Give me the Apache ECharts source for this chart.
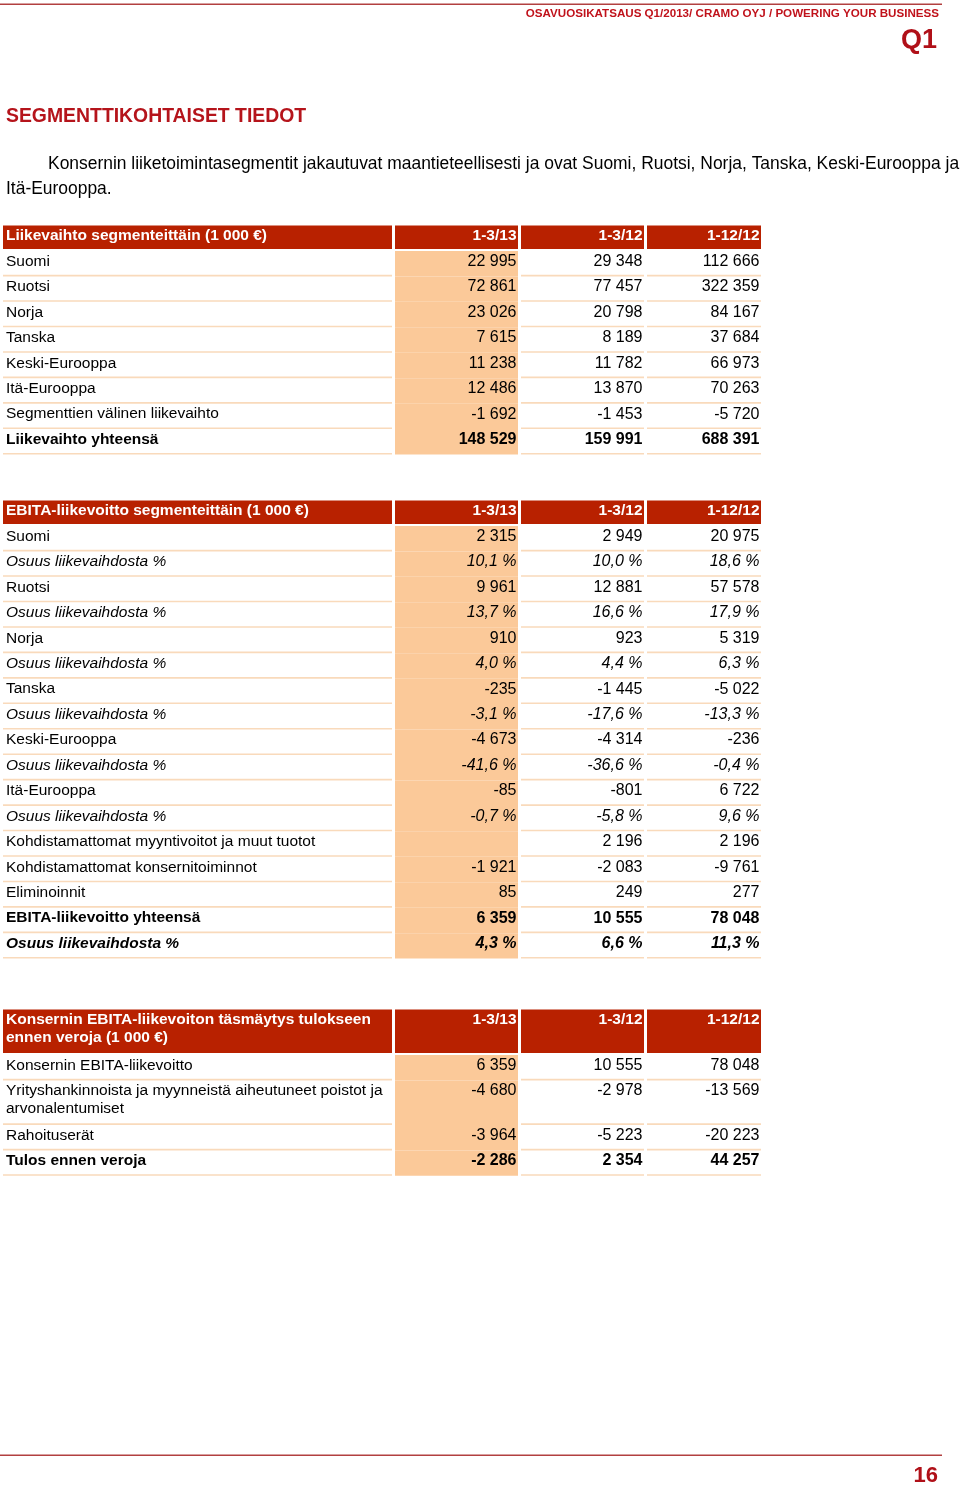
<!DOCTYPE html>
<html><head><meta charset="utf-8">
<script src="https://cdn.jsdelivr.net/npm/echarts@6/dist/echarts.min.js"></script>
<style>html,body{margin:0;padding:0;background:#fff}#c{width:960px;height:1489px}</style>
</head><body><div id="c"></div>
<script>
// ---------- DATA ----------
const pageHeader = 'OSAVUOSIKATSAUS Q1/2013/ CRAMO OYJ / POWERING YOUR BUSINESS';
const pageQuarter = 'Q1';
const pageTitle = 'SEGMENTTIKOHTAISET TIEDOT';
const introLine1 = 'Konsernin liiketoimintasegmentit jakautuvat maantieteellisesti ja ovat Suomi, Ruotsi, Norja, Tanska, Keski-Eurooppa ja';
const introLine2 = 'Itä-Eurooppa.';
const pageNumber = '16';
const periods = ['1-3/13', '1-3/12', '1-12/12'];

// Table 1: Liikevaihto
const t1Title = 'Liikevaihto segmenteittäin (1 000 €)';
const t1Labels = ['Suomi', 'Ruotsi', 'Norja', 'Tanska', 'Keski-Eurooppa', 'Itä-Eurooppa', 'Segmenttien välinen liikevaihto', 'Liikevaihto yhteensä'];
const t1Q113 = [22995, 72861, 23026, 7615, 11238, 12486, -1692, 148529];
const t1Q112 = [29348, 77457, 20798, 8189, 11782, 13870, -1453, 159991];
const t1Y12  = [112666, 322359, 84167, 37684, 66973, 70263, -5720, 688391];

// Table 2: EBITA
const t2Title = 'EBITA-liikevoitto segmenteittäin (1 000 €)';
const t2Segments = ['Suomi', 'Ruotsi', 'Norja', 'Tanska', 'Keski-Eurooppa', 'Itä-Eurooppa'];
const t2Q113 = [2315, 9961, 910, -235, -4673, -85];
const t2Q112 = [2949, 12881, 923, -1445, -4314, -801];
const t2Y12  = [20975, 57578, 5319, -5022, -236, 6722];
const t2ShareQ113 = [10.1, 13.7, 4.0, -3.1, -41.6, -0.7];
const t2ShareQ112 = [10.0, 16.6, 4.4, -17.6, -36.6, -5.8];
const t2ShareY12  = [18.6, 17.9, 6.3, -13.3, -0.4, 9.6];
const shareLabel = 'Osuus liikevaihdosta %';
const t2OtherLabels = ['Kohdistamattomat myyntivoitot ja muut tuotot', 'Kohdistamattomat konsernitoiminnot', 'Eliminoinnit'];
const t2OtherQ113 = [null, -1921, 85];
const t2OtherQ112 = [2196, -2083, 249];
const t2OtherY12  = [2196, -9761, 277];
const t2TotalLabel = 'EBITA-liikevoitto yhteensä';
const t2Total = [6359, 10555, 78048];
const t2TotalShare = [4.3, 6.6, 11.3];

// Table 3: Reconciliation
const t3Title = 'Konsernin EBITA-liikevoiton täsmäytys tulokseen\nennen veroja (1 000 €)';
const t3Labels = ['Konsernin EBITA-liikevoitto', 'Yrityshankinnoista ja myynneistä aiheutuneet poistot ja\narvonalentumiset', 'Rahoituserät', 'Tulos ennen veroja'];
const t3Q113 = [6359, -4680, -3964, -2286];
const t3Q112 = [10555, -2978, -5223, 2354];
const t3Y12  = [78048, -13569, -20223, 44257];

// ---------- FORMATTING ----------
function fmtNum(n) {
  if (n === null || n === undefined) return '';
  const s = String(Math.abs(n)).replace(/\B(?=(\d{3})+(?!\d))/g, ' ');
  return (n < 0 ? '-' : '') + s;
}
function fmtPct(n) { return n.toFixed(1).replace('.', ',') + ' %'; }

// ---------- LAYOUT ----------
const RED = '#B82100', PEACH = '#FBC999', LINE = '#F9DABB', TEXTRED = '#B5141B';
const colL = [3, 395, 521, 647], colR = [392, 518, 644, 761];
const ROW = 25.45, TALL = 44.5, HEAD2 = 45.5;
const FONT = '"Liberation Sans", Arial, sans-serif';

const cells = [];
function buildTable(top, title, rows) {
  let y = top;
  const hh = title.indexOf('\n') >= 0 ? HEAD2 : ROW;
  [title].concat(periods).forEach((t, c) => {
    cells.push({ kind: 'head', c, y0: y, y1: y + hh - 2, text: t });
  });
  y += hh;
  rows.forEach(r => {
    const h = r.label.indexOf('\n') >= 0 ? TALL : ROW;
    [r.label].concat(r.vals).forEach((t, c) => {
      cells.push({ kind: 'data', c, y0: y, y1: y + h, text: t, bold: !!r.bold, italic: !!r.italic });
    });
    y += h;
  });
}

const t1Rows = t1Labels.map((l, i) => ({ label: l, vals: [fmtNum(t1Q113[i]), fmtNum(t1Q112[i]), fmtNum(t1Y12[i])], bold: i === t1Labels.length - 1 }));
buildTable(225.5, t1Title, t1Rows);

const t2Rows = [];
t2Segments.forEach((s, i) => {
  t2Rows.push({ label: s, vals: [fmtNum(t2Q113[i]), fmtNum(t2Q112[i]), fmtNum(t2Y12[i])] });
  t2Rows.push({ label: shareLabel, vals: [fmtPct(t2ShareQ113[i]), fmtPct(t2ShareQ112[i]), fmtPct(t2ShareY12[i])], italic: true });
});
t2OtherLabels.forEach((l, i) => t2Rows.push({ label: l, vals: [fmtNum(t2OtherQ113[i]), fmtNum(t2OtherQ112[i]), fmtNum(t2OtherY12[i])] }));
t2Rows.push({ label: t2TotalLabel, vals: t2Total.map(fmtNum), bold: true });
t2Rows.push({ label: shareLabel, vals: t2TotalShare.map(fmtPct), bold: true, italic: true });
buildTable(500.5, t2Title, t2Rows);

const t3Rows = t3Labels.map((l, i) => ({ label: l, vals: [fmtNum(t3Q113[i]), fmtNum(t3Q112[i]), fmtNum(t3Y12[i])], bold: i === t3Labels.length - 1 }));
buildTable(1009.5, t3Title, t3Rows);

// ---------- CHART ----------
const chart = echarts.init(document.getElementById('c'), null, { renderer: 'canvas' });

function renderItem(params, api) {
  const cell = cells[params.dataIndex];
  const p0 = api.coord([colL[cell.c], cell.y0]);
  const p1 = api.coord([colR[cell.c], cell.y1]);
  const children = [];
  const isHead = cell.kind === 'head';
  if (isHead) {
    children.push({ type: 'rect', shape: { x: p0[0], y: p0[1], width: p1[0] - p0[0], height: p1[1] - p0[1] }, style: { fill: RED } });
  } else {
    if (cell.c === 1) {
      children.push({ type: 'rect', shape: { x: p0[0], y: p0[1], width: p1[0] - p0[0], height: p1[1] - p0[1] }, style: { fill: PEACH } });
    } else {
      children.push({ type: 'rect', shape: { x: p0[0], y: p1[1] - 1.6, width: p1[0] - p0[0], height: 1.6 }, style: { fill: LINE } });
    }
  }
  const left = cell.c === 0;
  const size = (left || isHead) ? 15.5 : 16;
  children.push({
    type: 'text',
    style: {
      text: cell.text,
      x: left ? p0[0] + 3 : p1[0] - 1.5,
      y: p0[1] + 1.5,
      align: left ? 'left' : 'right',
      verticalAlign: 'top',
      lineHeight: 18,
      fontSize: size,
      fontFamily: FONT,
      fontWeight: (isHead || cell.bold) ? 'bold' : 'normal',
      fontStyle: cell.italic ? 'italic' : 'normal',
      fill: isHead ? '#ffffff' : '#000000'
    }
  });
  return { type: 'group', children };
}

chart.setOption({
  animation: false,
  grid: { left: 0, right: 0, top: 0, bottom: 0 },
  xAxis: { type: 'value', min: 0, max: 960, show: false },
  yAxis: { type: 'value', min: 0, max: 1489, inverse: true, show: false },
  series: [{
    type: 'custom',
    coordinateSystem: 'cartesian2d',
    clip: false,
    renderItem,
    data: cells.map((c, i) => [colL[c.c], c.y0, i])
  }],
  graphic: [
    { type: 'rect', shape: { x: 0, y: 3.5, width: 942, height: 1.5 }, style: { fill: '#B24040' } },
    { type: 'text', style: { text: pageHeader, x: 939, y: 13.5, align: 'right', verticalAlign: 'middle', fontSize: 11.6, fontWeight: 'bold', fontFamily: FONT, fill: '#C0121B' } },
    { type: 'text', style: { text: pageQuarter, x: 937, y: 41, align: 'right', verticalAlign: 'middle', fontSize: 27, fontWeight: 'bold', fontFamily: FONT, fill: '#B01018' } },
    { type: 'text', style: { text: pageTitle, x: 6, y: 116.5, align: 'left', verticalAlign: 'middle', fontSize: 19.4, fontWeight: 'bold', fontFamily: FONT, fill: TEXTRED } },
    { type: 'text', style: { text: introLine1, x: 48, y: 164.5, align: 'left', verticalAlign: 'middle', fontSize: 17.45, fontFamily: FONT, fill: '#000' } },
    { type: 'text', style: { text: introLine2, x: 6, y: 189.5, align: 'left', verticalAlign: 'middle', fontSize: 17.45, fontFamily: FONT, fill: '#000' } },
    { type: 'rect', shape: { x: 0, y: 1454.5, width: 942, height: 1.5 }, style: { fill: '#B24040' } },
    { type: 'text', style: { text: pageNumber, x: 938, y: 1475.5, align: 'right', verticalAlign: 'middle', fontSize: 22, fontWeight: 'bold', fontFamily: FONT, fill: '#B01018' } }
  ]
});
</script>
</body></html>
